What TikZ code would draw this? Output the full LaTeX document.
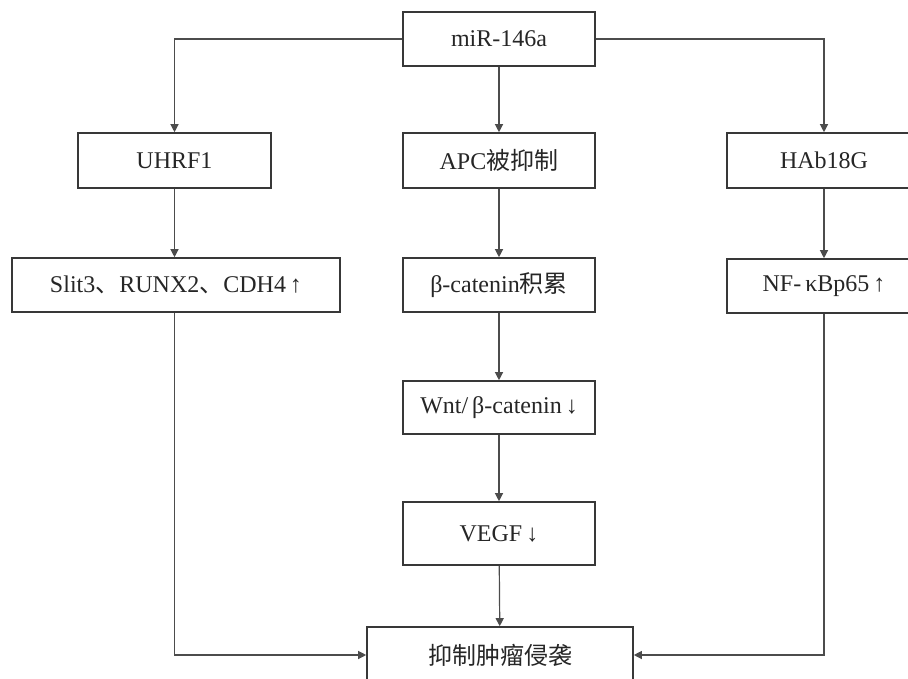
\documentclass[tikz,border=0pt]{standalone}
\usepackage{fontspec}
\setmainfont{Liberation Serif}
\newfontfamily\cjk{Noto Sans CJK SC}
\usetikzlibrary{arrows.meta}
\begin{document}
\begin{tikzpicture}[x=1pt,y=-1pt,
  box/.style={draw=black!78,line width=1.6pt,fill=white,minimum height=54pt,inner sep=0pt,
    font=\fontsize{24}{28}\selectfont,text=black!85},
  conn/.style={draw=black!70,line width=1.2pt,-{Triangle[length=8pt,width=8pt]}}]
\useasboundingbox (0,0) rectangle (908,678);
\clip (0,0) rectangle (908,678);
\node[box,minimum width=192pt] (mir) at (499,39) {miR-146a};
\node[box,minimum width=193pt,minimum height=55pt] (uhrf) at (174.5,160.5) {UHRF1};
\node[box,minimum width=192pt,minimum height=55pt] (apc) at (499,160.5) {APC{\cjk 被抑制}};
\node[box,minimum width=194pt,minimum height=55pt] (hab) at (824,160.5) {HAb18G};
\node[box,minimum width=328pt] (slit) at (176,285) {Slit3{\cjk 、}RUNX2{\cjk 、}CDH4\,↑};
\node[box,minimum width=192pt] (bcat) at (499,285) {β-catenin{\cjk 积累}};
\node[box,minimum width=194pt] (nf) at (824,286) {NF-\,κBp65\,↑};
\node[box,minimum width=192pt,minimum height=53pt] (wnt) at (499,407.5) {Wnt/\,β-catenin\,↓};
\node[box,minimum width=192pt,minimum height=63pt] (vegf) at (499,533.5) {VEGF\,↓};
\node[box,minimum width=266pt,minimum height=56pt] (res) at (500,655) {\cjk 抑制肿瘤侵袭};
\draw[conn] (mir.west) -| (uhrf.north);
\draw[conn] (mir.east) -| (hab.north);
\draw[conn] (mir) -- (apc);
\draw[conn] (uhrf) -- (uhrf.south |- slit.north);
\draw[conn] (apc) -- (bcat);
\draw[conn] (hab) -- (nf);
\draw[conn] (bcat) -- (wnt);
\draw[conn] (wnt) -- (vegf);
\draw[conn] (vegf) -- (res);
\draw[conn] (uhrf.south |- slit.south) |- (res.west);
\draw[conn] (nf.south) |- (res.east);
\end{tikzpicture}
\end{document}
